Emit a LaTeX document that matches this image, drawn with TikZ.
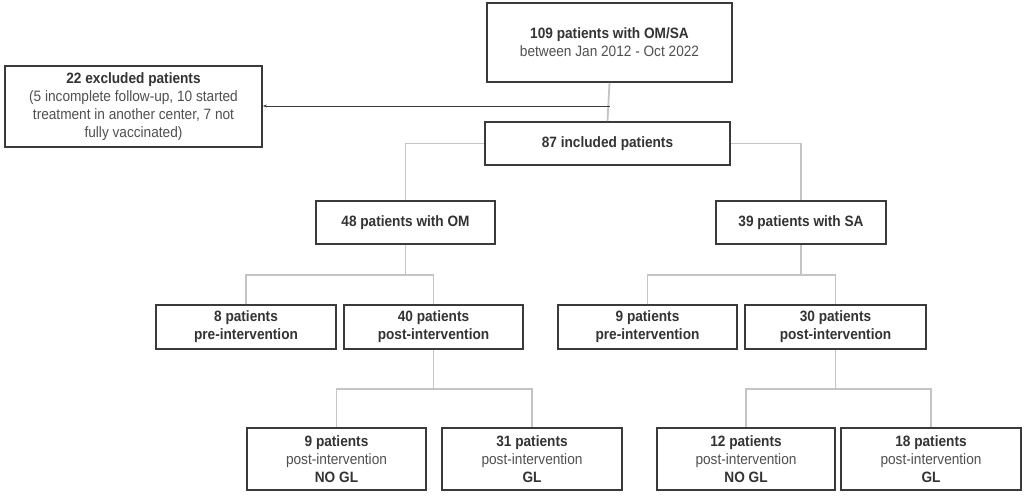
\documentclass[tikz,border=0pt]{standalone}
\usepackage{fontspec}
\setmainfont{Liberation Sans}[FakeStretch=0.91]
\usetikzlibrary{arrows.meta}
\definecolor{boxc}{HTML}{3A3A3A}
\definecolor{linec}{HTML}{C4C4C4}
\definecolor{txtb}{HTML}{333333}
\definecolor{txtr}{HTML}{505050}
\tikzset{
  box/.style={draw=boxc, line width=1.8pt, align=center, inner sep=0pt, text=txtb,
    font=\fontsize{15}{18}\selectfont},
  conn/.style={draw=linec, line width=1.8pt},
  excl/.style={draw=boxc, line width=0.9pt, -{Stealth[length=4pt,width=3pt]}},
}
\newcommand{\rg}[1]{{\color{txtr}\mdseries #1}}
\begin{document}
\begin{tikzpicture}[x=1pt,y=-1pt]
\useasboundingbox (0,0) rectangle (1029,498);
\fill[white] (0,0) rectangle (1029,498);
\node[box, minimum width=245pt, minimum height=79pt] (top) at (609.5,42.5) {\bfseries 109 patients with OM/SA\\ \rg{between Jan 2012 - Oct 2022}};
\node[box, minimum width=257pt, minimum height=81pt] (ex) at (133.5,106.5) {\bfseries 22 excluded patients\\ \rg{(5 incomplete follow-up, 10 started}\\ \rg{treatment in another center, 7 not}\\ \rg{fully vaccinated)}};
\node[box, minimum width=245pt, minimum height=43pt] (inc) at (607.5,143.5) {\bfseries 87 included patients};
\node[box, minimum width=179pt, minimum height=43pt] (om) at (405.5,222.5) {\bfseries 48 patients with OM};
\node[box, minimum width=170pt, minimum height=43pt] (sa) at (801,222.5) {\bfseries 39 patients with SA};
\node[box, minimum width=180pt, minimum height=44pt] (pre1) at (246,327) {\bfseries 8 patients\\ \bfseries pre-intervention};
\node[box, minimum width=179pt, minimum height=44pt] (post1) at (433.5,327) {\bfseries 40 patients\\ \bfseries post-intervention};
\node[box, minimum width=179pt, minimum height=44pt] (pre2) at (647.5,327) {\bfseries 9 patients\\ \bfseries pre-intervention};
\node[box, minimum width=181pt, minimum height=44pt] (post2) at (835.5,327) {\bfseries 30 patients\\ \bfseries post-intervention};
\node[box, minimum width=179pt, minimum height=62pt] (n1) at (336.5,459) {\bfseries 9 patients\\ \rg{post-intervention}\\ \bfseries NO GL};
\node[box, minimum width=180pt, minimum height=62pt] (g1) at (532,459) {\bfseries 31 patients\\ \rg{post-intervention}\\ \bfseries GL};
\node[box, minimum width=178pt, minimum height=62pt] (n2) at (746,459) {\bfseries 12 patients\\ \rg{post-intervention}\\ \bfseries NO GL};
\node[box, minimum width=180pt, minimum height=62pt] (g2) at (931,459) {\bfseries 18 patients\\ \rg{post-intervention}\\ \bfseries GL};
\coordinate (split) at (top.south |- 0,106);
% connectors
\draw[conn] (top.south) -- (inc.north);
\draw[excl] (split) -- (ex.east |- split);
\draw[conn] (inc.west) -| (om.north);
\draw[conn] (inc.east) -| (sa.north);
\draw[conn] (om.south) -- ++(0,30) -| (pre1.north);
\draw[conn] (om.south) ++(0,30) -| (post1.north);
\draw[conn] (sa.south) -- ++(0,30) -| (pre2.north);
\draw[conn] (sa.south) ++(0,30) -| (post2.north);
\draw[conn] (post1.south) -- ++(0,39) -| (n1.north);
\draw[conn] (post1.south) ++(0,39) -| (g1.north);
\draw[conn] (post2.south) -- ++(0,39) -| (n2.north);
\draw[conn] (post2.south) ++(0,39) -| (g2.north);
\end{tikzpicture}
\end{document}
